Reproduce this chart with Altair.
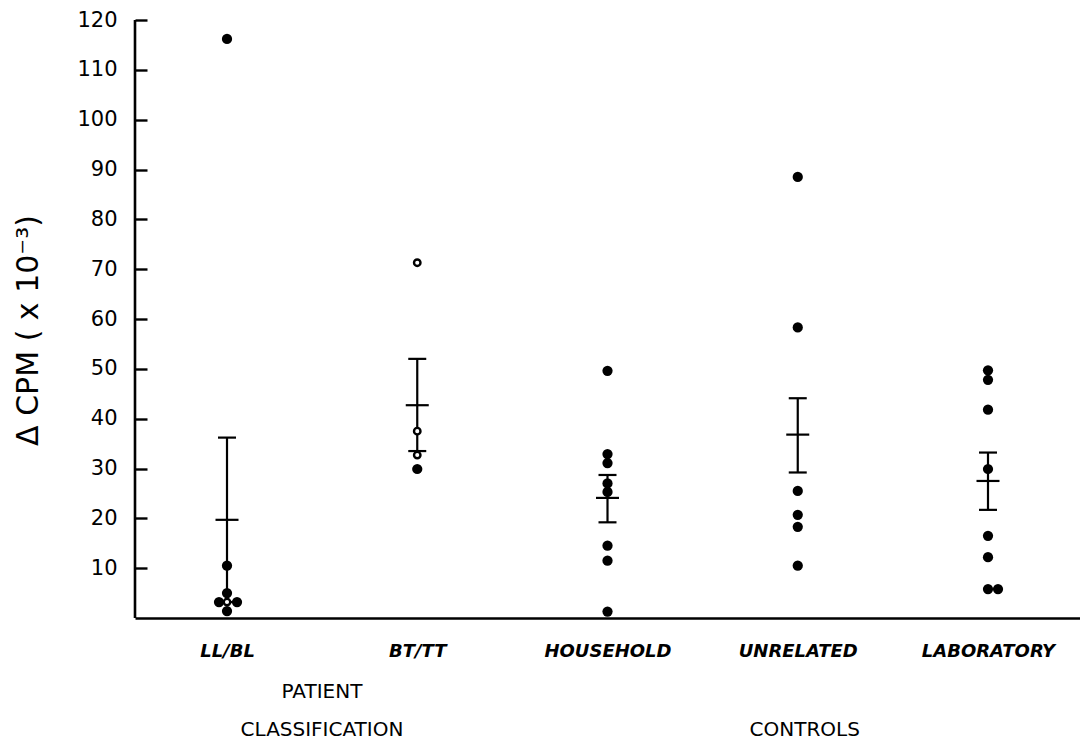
import altair as alt
import pandas as pd

# ---------------- data ----------------
categories = ["LL/BL", "BT/TT", "HOUSEHOLD", "UNRELATED", "LABORATORY"]

llbl_values = [116.2, 10.5, 5.0, 3.2, 3.2, 1.4, 3.2]
llbl_open = [False, False, False, False, False, False, True]
llbl_side = ["c", "c", "c", "l", "r", "c", "c"]

bttt_values = [71.3, 37.5, 32.7, 29.9]
bttt_open = [True, True, True, False]

household_values = [49.6, 32.9, 31.1, 27.0, 25.3, 14.5, 11.5, 1.3]
unrelated_values = [88.5, 58.3, 25.5, 20.7, 18.3, 10.5]
laboratory_values = [49.7, 47.8, 41.8, 29.9, 16.5, 12.2, 5.8, 5.8]
laboratory_side = ["c", "c", "c", "c", "c", "c", "c", "r"]

means = [19.7, 42.7, 24.1, 36.8, 27.5]
upper = [36.2, 52.0, 28.7, 44.1, 33.2]
lower = [3.2, 33.5, 19.2, 29.2, 21.7]

y_ticks = [10, 20, 30, 40, 50, 60, 70, 80, 90, 100, 110, 120]

group_line1 = [("PATIENT", "LL/BL")]
group_line2 = [("CLASSIFICATION", "LL/BL"), ("CONTROLS", "UNRELATED")]

# ---------------- tables ----------------
rows = []
for v, o, s in zip(llbl_values, llbl_open, llbl_side):
    rows.append({"cat": "LL/BL", "value": v, "open": o, "side": s})
for v, o in zip(bttt_values, bttt_open):
    rows.append({"cat": "BT/TT", "value": v, "open": o, "side": "c"})
for v in household_values:
    rows.append({"cat": "HOUSEHOLD", "value": v, "open": False, "side": "c"})
for v in unrelated_values:
    rows.append({"cat": "UNRELATED", "value": v, "open": False, "side": "c"})
for v, s in zip(laboratory_values, laboratory_side):
    rows.append({"cat": "LABORATORY", "value": v, "open": False, "side": s})
points = pd.DataFrame(rows)

stats = pd.DataFrame({"cat": categories, "mean": means, "hi": upper, "lo": lower})
g1 = pd.DataFrame(group_line1, columns=["text", "cat"])
g2 = pd.DataFrame(group_line2, columns=["text", "cat"])

W, H = 945, 598
FONT = "DejaVu Sans"

xscale = alt.Scale(type="point", domain=categories, padding=0.4836)
yscale = alt.Scale(domain=[0, 120], nice=False, zero=True)

xaxis = alt.Axis(
    domain=True, domainWidth=2.6, domainColor="black",
    ticks=False, tickSize=0, grid=False,
    labelPadding=24, labelFont=FONT, labelFontStyle="italic",
    labelFontWeight="bold", labelFontSize=18, labelColor="black",
    labelAngle=0, title=None,
)
yaxis = alt.Axis(
    values=y_ticks, offset=-12, tickSize=12, tickWidth=2.4, tickColor="black",
    domain=False, grid=False, labelPadding=18, labelFont=FONT,
    labelFontSize=21, labelColor="black",
    title="Δ CPM  ( x 10⁻³)", titleFont=FONT, titleFontSize=30,
    titleFontWeight="normal", titleColor="black",
    titleX=-110, titleY=310, titleAngle=270, titleAlign="center",
    titleBaseline="alphabetic",
)


def X():
    return alt.X("cat:N", scale=xscale, axis=xaxis, title=None)


def Y(field):
    return alt.Y(f"{field}:Q", scale=yscale, axis=yaxis)


base_pts = alt.Chart(points)

frame = alt.Chart(pd.DataFrame({"k": [0]})).mark_rule(
    color="black", strokeWidth=2.6
).encode(x=alt.value(0), y=alt.value(0), y2=alt.value(H))

DOT = 105
filled_c = base_pts.transform_filter("!datum.open && datum.side == 'c'").mark_circle(
    size=DOT, color="black", opacity=1
).encode(x=X(), y=Y("value"))
filled_l = base_pts.transform_filter("!datum.open && datum.side == 'l'").mark_circle(
    size=DOT, color="black", opacity=1, xOffset=-8
).encode(x=X(), y=Y("value"))
filled_r = base_pts.transform_filter("!datum.open && datum.side == 'r'").mark_circle(
    size=DOT, color="black", opacity=1, xOffset=10
).encode(x=X(), y=Y("value"))

base_st = alt.Chart(stats)
err = base_st.mark_rule(color="black", strokeWidth=2.2).encode(
    x=X(), y=Y("lo"), y2="hi:Q"
)
cap_hi = base_st.mark_tick(color="black", size=18, thickness=2.2, opacity=1).encode(
    x=X(), y=Y("hi")
)
cap_lo = base_st.mark_tick(color="black", size=18, thickness=2.2, opacity=1).encode(
    x=X(), y=Y("lo")
)
mean_t = base_st.mark_tick(color="black", size=23, thickness=2.2, opacity=1).encode(
    x=X(), y=Y("mean")
)

open_pts = base_pts.transform_filter("datum.open").mark_point(
    shape="circle", filled=True, fill="white", fillOpacity=1,
    stroke="black", strokeWidth=2.4, size=42, opacity=1
).encode(x=X(), y=Y("value"))

GF = 20
txt1 = alt.Chart(g1).mark_text(
    font=FONT, fontSize=GF, color="black", dx=95, align="center", baseline="middle"
).encode(x=X(), y=alt.value(672), text="text:N")
txt2a = alt.Chart(g2).transform_filter("datum.cat == 'LL/BL'").mark_text(
    font=FONT, fontSize=GF, color="black", dx=95, align="center", baseline="middle"
).encode(x=X(), y=alt.value(710), text="text:N")
txt2b = alt.Chart(g2).transform_filter("datum.cat == 'UNRELATED'").mark_text(
    font=FONT, fontSize=GF, color="black", dx=7, align="center", baseline="middle"
).encode(x=X(), y=alt.value(710), text="text:N")

chart = alt.layer(
    frame, filled_c, filled_l, filled_r, err, cap_hi, cap_lo, mean_t, open_pts,
    txt1, txt2a, txt2b
).properties(
    width=W, height=H,
    autosize=alt.AutoSizeParams(type="none"),
    padding={"left": 127, "top": 12, "right": 0, "bottom": 124},
    background="white",
).configure_view(stroke=None)

chart.save("out.html", embed_options={"renderer": "svg", "actions": False})
